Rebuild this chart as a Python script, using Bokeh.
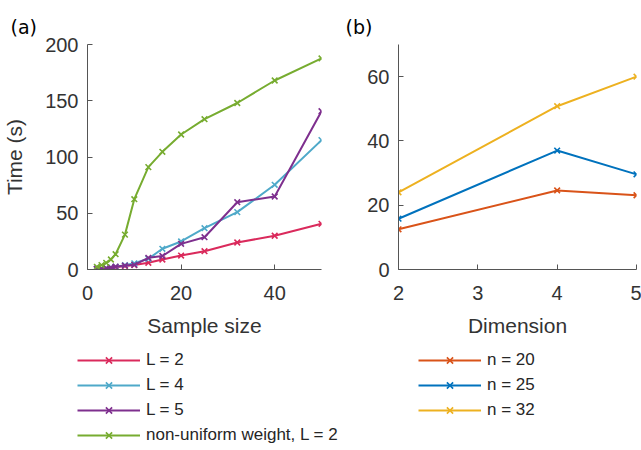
from bokeh.plotting import figure
from bokeh.models import Legend, LegendItem, Range1d, FixedTicker, Title
from bokeh.layouts import row, column
from bokeh.embed import file_html
from bokeh.resources import INLINE

# ---------------- data ----------------
sample_size = [2, 3, 4, 5, 6, 8, 10, 13, 16, 20, 25, 32, 40, 50]
time_L2 = [0.5, 0.7, 1.0, 1.5, 2.0, 3.0, 4.0, 6.0, 8.9, 12.4, 16.3, 24.0, 30.0, 40.6]
time_L4 = [0.5, 0.8, 1.2, 1.8, 2.5, 3.8, 5.5, 9.5, 18.4, 24.9, 36.7, 51.0, 75.3, 115.0]
time_L5 = [0.5, 0.8, 1.2, 1.8, 2.5, 3.5, 4.2, 10.4, 12.0, 22.8, 28.7, 59.8, 64.9, 140.7]
time_nonuniform = [2.4, 3.9, 5.9, 8.9, 13.6, 31.0, 62.5, 91.0, 104.6, 120.0, 133.6, 148.0, 168.0, 187.6]

dimension = [2, 4, 5]
time_n20 = [12.5, 24.6, 23.1]
time_n25 = [15.8, 37.0, 29.6]
time_n32 = [24.0, 50.8, 60.0]

labels_a = ["L = 2", "L = 4", "L = 5", "non-uniform weight, L = 2"]
labels_b = ["n = 20", "n = 25", "n = 32"]
xticks_a = [0, 20, 40]
yticks_a = [0, 50, 100, 150, 200]
xticks_b = [2, 3, 4, 5]
yticks_b = [0, 20, 40, 60]

colors_a = ["#DA2A5C", "#4FA9C9", "#7E2F8E", "#77AC30"]
colors_b = ["#D95319", "#0072BD", "#EDB120"]

FONT = "Liberation Sans"
TXT = "#333333"
MAIN_H = 345
LEG_H = 450 - MAIN_H
NAN = float("nan")


def make_fig(width, bl, br, xr, yr, xt, yt, xlabel, ylabel, tag, tag_offset):
    p = figure(width=width, height=MAIN_H, output_backend="svg", toolbar_location=None,
               x_range=Range1d(*xr), y_range=Range1d(*yr),
               min_border_left=bl, min_border_right=br,
               min_border_top=44, min_border_bottom=MAIN_H - 269)
    p.outline_line_color = None
    p.xgrid.visible = False
    p.ygrid.visible = False
    p.xaxis.ticker = FixedTicker(ticks=xt)
    p.yaxis.ticker = FixedTicker(ticks=yt)
    for ax in (p.xaxis, p.yaxis):
        ax.axis_line_color = "#555555"
        ax.axis_line_width = 1
        ax.major_tick_line_color = "#555555"
        ax.major_tick_in = 5
        ax.major_tick_out = 0
        ax.minor_tick_line_color = None
        ax.major_label_text_font = FONT
        ax.major_label_text_font_size = "20px"
        ax.major_label_text_color = TXT
        ax.axis_label_text_font = FONT
        ax.axis_label_text_font_size = "21px"
        ax.axis_label_text_font_style = "normal"
        ax.axis_label_text_color = TXT
    p.xaxis.major_label_standoff = 16
    p.xaxis.axis_label_standoff = 11
    p.yaxis.major_label_standoff = 9
    p.yaxis.axis_label_standoff = 16
    p.xaxis.axis_label = xlabel
    if ylabel:
        p.yaxis.axis_label = ylabel
    p.add_layout(Title(text=tag, align="left", offset=tag_offset, text_font="DejaVu Sans",
                       text_font_size="19px", text_font_style="normal",
                       text_color="black", standoff=14), "above")
    return p


def add_series(p, x, series, colors):
    for ys, col in zip(series, colors):
        p.line(x, ys, line_color=col, line_width=2)
        p.scatter(x, ys, marker="x", size=8, line_color=col, line_width=1.6)


def legend_fig(width, labels, colors, left):
    f = figure(width=width, height=LEG_H, output_backend="svg", toolbar_location=None,
               x_range=Range1d(0, 1), y_range=Range1d(0, 1),
               min_border=0)
    f.outline_line_color = None
    f.axis.visible = False
    f.grid.visible = False
    items = []
    for lab, col in zip(labels, colors):
        # legend swatches only: a single undefined point, nothing is drawn in the frame
        l = f.line(x=[NAN], y=[NAN], line_color=col, line_width=2)
        s = f.scatter(x=[NAN], y=[NAN], marker="x", size=7, line_color=col, line_width=1.6)
        items.append(LegendItem(label=lab, renderers=[l, s]))
    n = len(labels)
    leg_h = n * 22 + (n - 1) * 3
    leg = Legend(items=items, location=(left, LEG_H - 4 - leg_h), orientation="vertical",
                 glyph_width=63, glyph_height=22, label_height=22, label_width=20,
                 label_standoff=6, spacing=3, padding=0, margin=0,
                 border_line_color=None, background_fill_alpha=0,
                 label_text_font=FONT, label_text_font_size="17px",
                 label_text_color="#262626")
    f.add_layout(leg, "center")
    return f


p1 = make_fig(330, 82, 9, (0, 50), (0, 200), xticks_a, yticks_a,
              "Sample size", "Time (s)", "(a)", -77)
add_series(p1, sample_size, [time_L2, time_L4, time_L5, time_nonuniform], colors_a)

p2 = make_fig(311, 68, 5, (2, 5), (0, 70), xticks_b, yticks_b,
              "Dimension", None, "(b)", -53)
add_series(p2, dimension, [time_n20, time_n25, time_n32], colors_b)

l1 = legend_fig(350, labels_a, colors_a, 77)
l2 = legend_fig(291, labels_b, colors_b, 418 - 350)

layout = column(row(p1, p2, spacing=0), row(l1, l2, spacing=0), spacing=0)
open("out.html", "w").write(file_html(layout, INLINE))
